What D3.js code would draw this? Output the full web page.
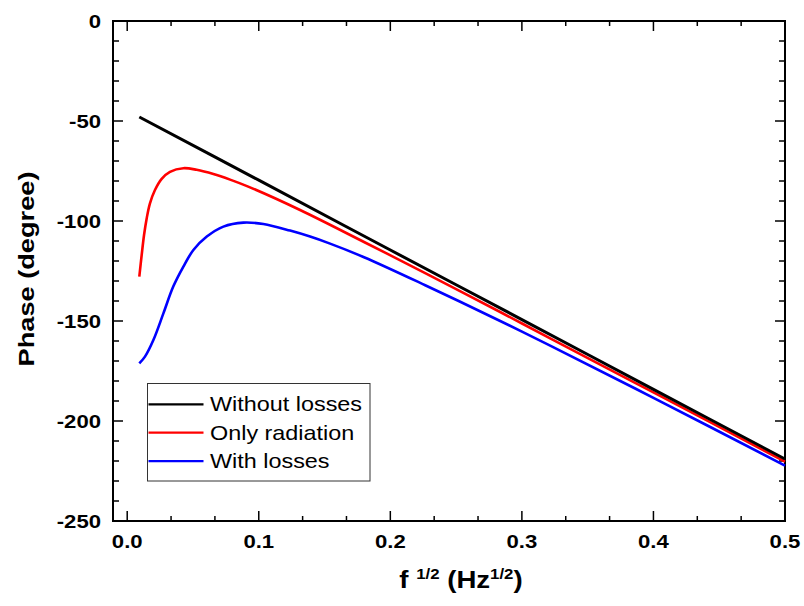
<!DOCTYPE html>
<html><head><meta charset="utf-8">
<script src="https://cdn.jsdelivr.net/npm/d3@7"></script>
<style>body{margin:0;background:#fff}svg{display:block}text{font-family:"Liberation Sans",Arial,sans-serif}</style>
</head><body><svg id="c" width="804" height="606"></svg>
<script>
const seriesNames = ["Without losses", "Only radiation", "With losses"];
const seriesColors = ["#000000", "#ff0000", "#0000ff"];
const blackX = [0.0092, 0.1, 0.2, 0.3, 0.4, 0.5];
const blackY = [-48, -79.6, -114.5, -149.3, -184.2, -219];
const redX = [0.0092, 0.011, 0.0128, 0.0148, 0.0173, 0.0211, 0.0262, 0.0325, 0.0427, 0.0528, 0.0655, 0.0782, 0.092, 0.1314, 0.18, 0.2265, 0.2835, 0.3215, 0.4, 0.5];
const redY = [-127.8, -117, -107, -98.7, -91.2, -84.5, -78.9, -75.4, -73.6, -74.4, -76.5, -79.3, -82.8, -94.5, -110.5, -126.1, -145.5, -158.7, -185.7, -220.3];
const blueX = [0.0092, 0.0135, 0.0199, 0.0275, 0.035, 0.0427, 0.0503, 0.0605, 0.0731, 0.0883, 0.1035, 0.1238, 0.139, 0.1537, 0.18, 0.2265, 0.2835, 0.3215, 0.4, 0.5];
const blueY = [-171.2, -167.8, -159.5, -146.2, -132.8, -122.8, -114.5, -107.8, -102.8, -100.8, -101.5, -104.8, -107.8, -111.2, -118.1, -132.1, -150.0, -162.3, -188.4, -222.3];
const xTickLabels = ["0.0", "0.1", "0.2", "0.3", "0.4", "0.5"];
const yTickLabels = ["-250", "-200", "-150", "-100", "-50", "0"];

const svg = d3.select("#c");
const L = 113, R = 785, T = 21, B = 521;
const x = d3.scaleLinear().domain([-0.0108, 0.5]).range([L, R]);
const y = d3.scaleLinear().domain([-250, 0]).range([B, T]);
const SX = 1.19;

// ticks
const xMajor = xTickLabels.map(Number);
const xMinor = d3.range(0, 16).map(i => i / 30).filter(v => v <= 0.5001);
const yMajor = yTickLabels.map(Number);
const yMinor = d3.range(-250, 1, 10);
const tk = svg.append("g").attr("stroke", "#000").attr("stroke-width", 1.5);
xMinor.forEach(v => {
  const isMaj = xMajor.some(m => Math.abs(m - v) < 1e-6);
  const len = isMaj ? 10 : 5;
  tk.append("line").attr("x1", x(v)).attr("x2", x(v)).attr("y1", B).attr("y2", B - len);
  tk.append("line").attr("x1", x(v)).attr("x2", x(v)).attr("y1", T).attr("y2", T + len);
});
yMinor.forEach(v => {
  const isMaj = yMajor.includes(v);
  const len = isMaj ? 10 : 6;
  tk.append("line").attr("y1", y(v)).attr("y2", y(v)).attr("x1", L).attr("x2", L + len);
  tk.append("line").attr("y1", y(v)).attr("y2", y(v)).attr("x1", R).attr("x2", R - len);
});

// frame
svg.append("rect").attr("x", L).attr("y", T).attr("width", R - L).attr("height", B - T)
  .attr("fill", "none").attr("stroke", "#000").attr("stroke-width", 2);

// tick labels
xMajor.forEach((v, i) => {
  svg.append("text").attr("transform", `translate(${x(v)},548) scale(${SX},1)`)
    .attr("text-anchor", "middle").attr("font-size", 18.6).attr("font-weight", "bold").text(xTickLabels[i]);
});
yMajor.forEach((v, i) => {
  svg.append("text").attr("transform", `translate(101,${y(v) + 6.7}) scale(${SX},1)`)
    .attr("text-anchor", "end").attr("font-size", 18.6).attr("font-weight", "bold").text(yTickLabels[i]);
});

// axis titles
svg.append("text").attr("transform", "translate(34,269) rotate(-90) scale(1.22,1)")
  .attr("text-anchor", "middle").attr("font-size", 22.3).attr("font-weight", "bold").text("Phase (degree)");
const xt = svg.append("text").attr("transform", "translate(461,588) scale(1.2,1)")
  .attr("text-anchor", "middle").attr("font-size", 23).attr("font-weight", "bold");
xt.append("tspan").text("f ");
xt.append("tspan").attr("font-size", 14).attr("dy", -9).text("1/2");
xt.append("tspan").attr("dy", 9).text(" (Hz");
xt.append("tspan").attr("font-size", 14).attr("dy", -9).text("1/2");
xt.append("tspan").attr("dy", 9).text(")");

// lines
const line = d3.line().x(d => x(d[0])).y(d => y(d[1])).curve(d3.curveCatmullRom.alpha(0.5));
const data = [
  { xs: blueX, ys: blueY, c: seriesColors[2], w: 2.6 },
  { xs: redX, ys: redY, c: seriesColors[1], w: 2.6 },
  { xs: blackX, ys: blackY, c: seriesColors[0], w: 3 }
];
data.forEach(s => {
  svg.append("path").attr("d", line(s.xs.map((v, i) => [v, s.ys[i]])))
    .attr("fill", "none").attr("stroke", s.c).attr("stroke-width", s.w)
    .attr("stroke-linejoin", "round").attr("stroke-linecap", "butt");
});

// legend
svg.append("rect").attr("x", 147.5).attr("y", 383.5).attr("width", 222.5).attr("height", 97.5)
  .attr("fill", "#fff").attr("stroke", "#333").attr("stroke-width", 1);
seriesNames.forEach((n, i) => {
  const ly = 404.3 + i * 28.4;
  svg.append("line").attr("x1", 148.5).attr("x2", 203.5).attr("y1", ly).attr("y2", ly)
    .attr("stroke", seriesColors[i]).attr("stroke-width", 2.2);
  svg.append("text").attr("transform", `translate(210,${ly + 7}) scale(1.17,1)`)
    .attr("font-size", 20).text(n);
});
</script></body></html>
